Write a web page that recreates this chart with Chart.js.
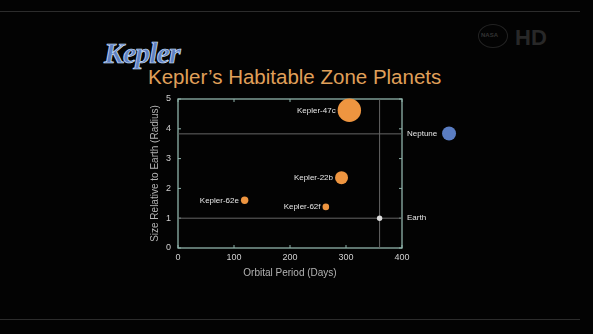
<!DOCTYPE html>
<html>
<head>
<meta charset="utf-8">
<script src="https://cdn.jsdelivr.net/npm/chart.js@4.4.1/dist/chart.umd.min.js"></script>
<style>
  body { margin: 0; background: #000; }
  #wrap { position: relative; width: 593px; height: 334px; background: #030303; overflow: hidden; }
  #myChart { position: absolute; left: 0; top: 0; }
  .rule { position: absolute; left: 0; width: 580px; height: 1px; background: #2c2c2c; }
  #logo { position: absolute; left: 104px; top: 36px; font: italic bold 30px "Liberation Serif", serif;
          color: #5f80c2; -webkit-text-stroke: 0.7px #d6e4ff; letter-spacing: -1px; }
  #title { position: absolute; left: 148px; top: 65px; font: 20.5px "Liberation Sans", Arial, sans-serif;
           color: #e0a05a; white-space: nowrap; }
  #nasaRing { position: absolute; left: 478px; top: 24px; width: 28px; height: 22px; border-radius: 50%;
              border: 1px solid #222; }
  #nasa { position: absolute; left: 481px; top: 32px; font: bold 6px "Liberation Sans", sans-serif; color: #333; }
  #hd { position: absolute; left: 515px; top: 25px; font: bold 22px "Liberation Sans", sans-serif; color: #282828; }
</style>
</head>
<body>
<div id="wrap">
  <div class="rule" style="top:11px"></div>
  <div class="rule" style="top:319px"></div>
  <div id="logo">Kepler</div>
  <div id="title">Kepler’s Habitable Zone Planets</div>
  <div id="nasaRing"></div>
  <div id="nasa">NASA</div>
  <div id="hd">HD</div>
  <canvas id="myChart" width="593" height="334"></canvas>
</div>
<script>
// planets found by Kepler
const planetNames = ["Kepler-62e", "Kepler-62f", "Kepler-22b", "Kepler-47c"];
const orbitalPeriod = [119, 264, 292, 306];
const sizeRelative = [1.6, 1.38, 2.36, 4.62];
const bubbleRadius = [3.7, 3.3, 6.5, 11.7];

// reference planets
const earthPoint = { x: 360, y: 1, r: 2.7 };
const neptunePoint = { x: 484, y: 3.84, r: 7 };

// reference lines
const neptuneLine = 3.83;
const earthLine = 1;
const earthPeriodLine = 360;

const xTicks = [0, 100, 200, 300, 400];
const yTicks = [0, 1, 2, 3, 4, 5];

const frameColor = "#8fb3aa";
const refColor = "#666666";

const ctx = document.getElementById("myChart");

const overlay = {
  id: "overlay",
  beforeDatasetsDraw(chart) {
    const { ctx, chartArea: a, scales } = chart;
    ctx.save();
    ctx.strokeStyle = frameColor;
    ctx.lineWidth = 1.3;
    ctx.strokeRect(a.left, a.top, a.right - a.left, a.bottom - a.top);
    ctx.lineWidth = 1;
    scales.x.ticks.forEach((t) => {
      const px = scales.x.getPixelForValue(t.value);
      ctx.beginPath();
      ctx.moveTo(px, a.bottom); ctx.lineTo(px, a.bottom - 3);
      ctx.moveTo(px, a.top); ctx.lineTo(px, a.top + 3);
      ctx.stroke();
    });
    scales.y.ticks.forEach((t) => {
      const py = scales.y.getPixelForValue(t.value);
      ctx.beginPath();
      ctx.moveTo(a.left, py); ctx.lineTo(a.left + 3, py);
      ctx.moveTo(a.right, py); ctx.lineTo(a.right - 3, py);
      ctx.stroke();
    });
    ctx.restore();
  },
  afterDatasetsDraw(chart) {
    const { ctx, chartArea: a, scales } = chart;
    // Neptune sits outside the plot, so the point element is drawn without the area check
    const wide = { left: 0, top: 0, right: chart.width, bottom: chart.height };
    chart.getDatasetMeta(2).data.forEach((el) => el.draw(ctx, wide));

    ctx.save();
    ctx.font = "8px 'Liberation Sans', Arial, sans-serif";
    ctx.fillStyle = "#e6e6e6";
    ctx.textBaseline = "middle";
    ctx.textAlign = "right";
    chart.getDatasetMeta(0).data.forEach((el, i) => {
      ctx.fillText(planetNames[i], el.x - el.options.radius - 2, el.y);
    });
    ctx.textAlign = "left";
    ctx.fillText("Neptune", a.right + 5, scales.y.getPixelForValue(neptuneLine));
    ctx.fillText("Earth", a.right + 5, scales.y.getPixelForValue(earthLine));
    ctx.restore();
  },
};

new Chart(ctx, {
  type: "bubble",
  data: {
    datasets: [
      {
        label: "Kepler",
        data: orbitalPeriod.map((p, i) => ({ x: p, y: sizeRelative[i], r: bubbleRadius[i] })),
        backgroundColor: "#ee9540",
        borderWidth: 0,
        clip: false,
        order: 1,
      },
      {
        label: "Earth",
        data: [earthPoint],
        backgroundColor: "#dcdcdc",
        borderWidth: 0,
        clip: false,
        order: 1,
      },
      {
        label: "Neptune",
        data: [neptunePoint],
        backgroundColor: "#5a7dc2",
        borderWidth: 0,
        clip: false,
        order: 1,
      },
      {
        type: "line",
        data: [{ x: 0, y: neptuneLine }, { x: 400, y: neptuneLine }],
        borderColor: refColor,
        borderWidth: 1,
        pointRadius: 0,
        order: 2,
      },
      {
        type: "line",
        data: [{ x: 0, y: earthLine }, { x: 400, y: earthLine }],
        borderColor: refColor,
        borderWidth: 1,
        pointRadius: 0,
        order: 2,
      },
      {
        type: "line",
        data: [{ x: earthPeriodLine, y: 0 }, { x: earthPeriodLine, y: 5 }],
        borderColor: refColor,
        borderWidth: 1,
        pointRadius: 0,
        order: 2,
      },
    ],
  },
  options: {
    responsive: false,
    animation: false,
    events: [],
    layout: {
      padding: { left: 130, right: 191, top: 99, bottom: 46 },
    },
    plugins: {
      legend: false,
      tooltip: { enabled: false },
    },
    scales: {
      x: {
        type: "linear",
        min: xTicks[0],
        max: xTicks[xTicks.length - 1],
        afterFit: (s) => { s.height = 40; },
        afterBuildTicks: (s) => { s.ticks = xTicks.map((v) => ({ value: v })); },
        grid: { display: false, drawTicks: false },
        border: { display: false },
        ticks: {
          color: "#d0d0d0",
          padding: 4,
          maxRotation: 0,
          font: { family: "'Liberation Sans', Arial, sans-serif", size: 9 },
        },
        title: {
          display: true,
          text: "Orbital Period (Days)",
          color: "#b4b4b4",
          padding: { top: 0, bottom: 9 },
          font: { family: "'Liberation Sans', Arial, sans-serif", size: 10 },
        },
      },
      y: {
        type: "linear",
        min: yTicks[0],
        max: yTicks[yTicks.length - 1],
        afterFit: (s) => { s.width = 48; },
        afterBuildTicks: (s) => { s.ticks = yTicks.map((v) => ({ value: v })); },
        grid: { display: false, drawTicks: false },
        border: { display: false },
        ticks: {
          color: "#d0d0d0",
          padding: 7,
          font: { family: "'Liberation Sans', Arial, sans-serif", size: 9 },
        },
        title: {
          display: true,
          text: "Size Relative to Earth (Radius)",
          color: "#b4b4b4",
          padding: { top: 19, bottom: 0 },
          font: { family: "'Liberation Sans', Arial, sans-serif", size: 10 },
        },
      },
    },
  },
  plugins: [overlay],
});
</script>
</body>
</html>
